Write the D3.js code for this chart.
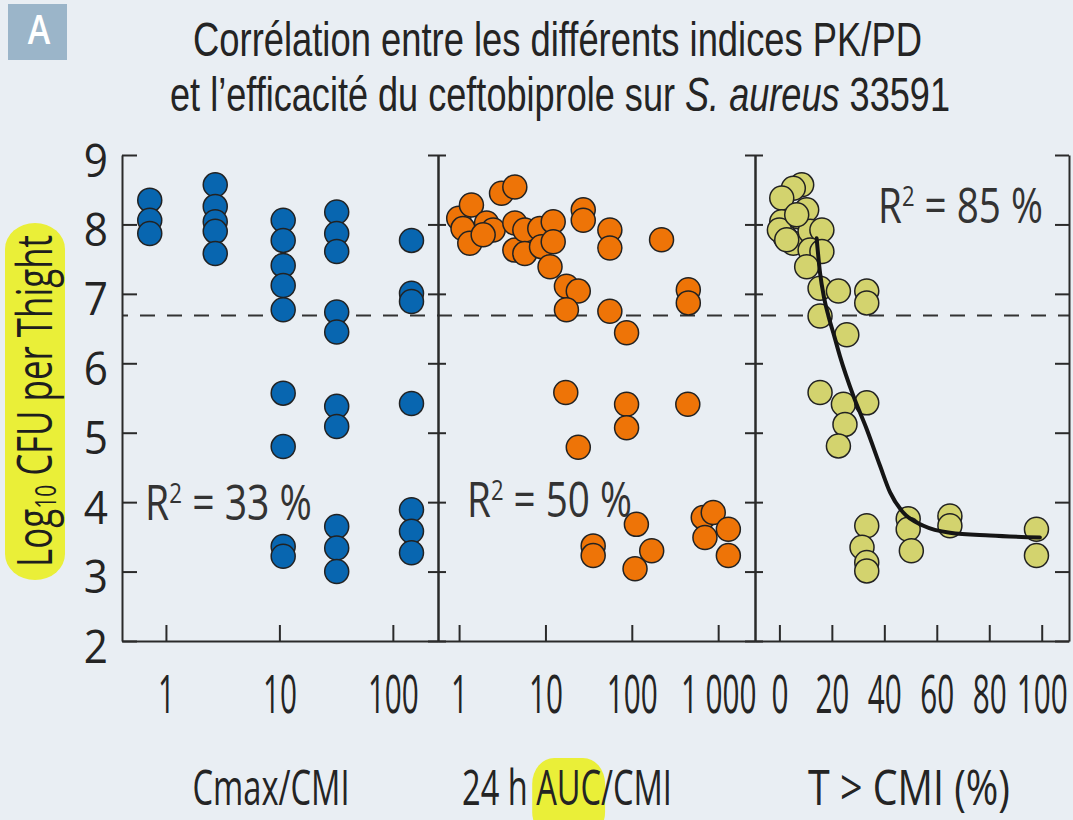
<!DOCTYPE html>
<html><head><meta charset="utf-8">
<script src="https://cdn.jsdelivr.net/npm/d3@7"></script>
<style>html,body{margin:0;padding:0;background:#e9eef3;}svg{display:block;}</style>
</head><body>
<svg id="c" width="1073" height="820"></svg>
<script>
// ---------- data ----------
const titleLine1 = "Corrélation entre les différents indices PK/PD";
const titleLine2a = "et l’efficacité du ceftobiprole sur ";
const titleLine2b = "S. aureus";
const titleLine2c = " 33591";
const panelLetter = "A";
const yTicks = [2, 3, 4, 5, 6, 7, 8, 9];
const cmaxTicks = [1, 10, 100];
const cmaxTickLabels = ["1", "10", "100"];
const aucTicks = [1, 10, 100, 1000];
const aucTickLabels = ["1", "10", "100", "1 000"];
const tTicks = [0, 20, 40, 60, 80, 100];
const tTickLabels = ["0", "20", "40", "60", "80", "100"];
const xTitles = ["Cmax/CMI", "24 h AUC/CMI", "T > CMI (%)"];
const r2Values = [33, 50, 85];
const threshold = 6.69;

const cmaxX = [0.72, 0.72, 0.72,
  2.72, 2.72, 2.72, 2.72, 2.72,
  10.8, 10.8, 10.8, 10.8, 10.8, 10.8, 10.8, 10.8, 10.8,
  32, 32, 32, 32, 32, 32, 32, 32, 32, 32,
  146, 146, 146, 146, 146, 146, 146];
const cmaxY = [8.35, 8.06, 7.87,
  8.57, 8.26, 8.04, 7.90, 7.58,
  8.06, 7.77, 7.41, 7.12, 6.77, 5.57, 4.80, 3.36, 3.22,
  8.18, 7.87, 7.61, 6.74, 6.45, 5.38, 5.09, 3.65, 3.34, 3.00,
  7.77, 7.01, 6.89, 5.42, 3.89, 3.58, 3.27];

const aucX = [0.99, 1.11, 1.39, 1.33, 2.08, 2.48, 1.9, 3.10, 4.42, 4.42, 4.42, 5.77, 5.77, 8.6, 9.0, 12.3, 12.3, 11.3, 27.4, 27.4,
  17.5, 24, 17.5, 55.7, 55.7, 55.7, 87, 221, 451, 451,
  17.2, 24, 87, 87, 445,
  35.7, 35.7, 113, 170, 109, 672, 877, 703, 1312, 1312];
const aucY = [8.09, 7.94, 8.28, 7.73, 8.02, 7.92, 7.85, 8.45, 8.54, 8.02, 7.63, 7.92, 7.58, 7.94, 7.68, 8.04, 7.75, 7.39, 8.21, 8.06,
  7.11, 7.04, 6.77, 7.92, 7.66, 6.75, 6.44, 7.78, 7.06, 6.87,
  5.58, 4.79, 5.41, 5.07, 5.41,
  3.37, 3.23, 3.68, 3.30, 3.04, 3.78, 3.85, 3.49, 3.61, 3.23];

const tX = [8.5, 5.3, 0.9, 0.9, 7.2, 10.4, 2.2, 5.3, 11.7, 16.2, 11.7, 16.2, 10.4, 0, 2.8, 6.6,
  15.5, 22.5, 15.5, 25.7, 33.3, 33.3,
  15.5, 24.4, 33.3, 25, 22.5,
  33.3, 31.5, 33.3, 33.3, 49.1, 49.1, 50.3, 65, 65, 98, 98];
const tY = [8.57, 8.52, 8.38, 8.04, 8.11, 8.21, 7.82, 7.73, 7.90, 7.92, 7.63, 7.61, 7.39, 7.92, 7.78, 8.14,
  7.08, 7.04, 6.68, 6.41, 7.04, 6.87,
  5.58, 5.41, 5.43, 5.12, 4.81,
  3.66, 3.35, 3.13, 3.01, 3.76, 3.61, 3.30, 3.80, 3.66, 3.61, 3.23];

const fitX = [14.2, 15.5, 17, 18.7, 21, 23.1, 28.2, 33.3, 38.4, 42.2, 47.2, 54.9, 65, 80.3, 99.3];
const fitY = [7.80, 7.30, 6.95, 6.68, 6.38, 6.10, 5.53, 5.05, 4.52, 4.14, 3.85, 3.66, 3.56, 3.52, 3.49];

// ---------- drawing ----------
const FONT = "'Open Sans','Liberation Sans',sans-serif";
const TFONT = "'Liberation Sans',Arial,sans-serif";
const INK = "#242424";
const svg = d3.select("#c");
svg.append("rect").attr("width", 1073).attr("height", 820).attr("fill", "#e9eef3");

function fit(t, cx, by, w, rot) {
  const bw = t.node().getBBox().width;
  const s = w / bw;
  t.attr("transform", `translate(${cx},${by})${rot || ""} scale(${s},1)`);
  return s;
}

// panel letter
svg.append("rect").attr("x", 8).attr("y", 4).attr("width", 59).attr("height", 56).attr("fill", "#9bb5c9");
const pl = svg.append("text").attr("text-anchor", "middle").attr("font-family", FONT)
  .attr("font-size", 40).attr("font-weight", 600).attr("fill", "#ffffff").text(panelLetter);
fit(pl, 39, 44, 23);

// title
const t1 = svg.append("text").attr("text-anchor", "middle").attr("font-family", TFONT)
  .attr("font-size", 48.5).attr("fill", INK).text(titleLine1);
fit(t1, 557.5, 56, 729);
const t2 = svg.append("text").attr("text-anchor", "middle").attr("font-family", TFONT)
  .attr("font-size", 48.5).attr("fill", INK);
t2.append("tspan").text(titleLine2a);
t2.append("tspan").attr("font-style", "italic").text(titleLine2b);
t2.append("tspan").text(titleLine2c);
fit(t2, 560, 111, 780);

// y title with highlight
svg.append("rect").attr("x", 5).attr("y", 223).attr("width", 60).attr("height", 357)
  .attr("rx", 30).attr("ry", 26).attr("fill", "#eaef38");
const yt = svg.append("text").attr("text-anchor", "middle").attr("font-family", FONT)
  .attr("font-size", 50).attr("fill", "#1e1e1e");
yt.append("tspan").text("Log");
yt.append("tspan").attr("font-size", 30).attr("dy", 4).text("10");
yt.append("tspan").attr("dy", -4).text(" CFU per Thight");
fit(yt, 52, 401, 332, " rotate(-90)");

const y = d3.scaleLinear().domain([2, 9]).range([641, 155]);

const panels = [
  { x0: 122, x1: 438, scale: d3.scaleLog().domain([0.41, 250]), ticks: cmaxTicks, labels: cmaxTickLabels,
    xs: cmaxX, ys: cmaxY, fill: "#0866b0" },
  { x0: 438, x1: 755, scale: d3.scaleLog().domain([0.57, 2670]), ticks: aucTicks, labels: aucTickLabels,
    xs: aucX, ys: aucY, fill: "#ee7407" },
  { x0: 755, x1: 1069, scale: d3.scaleLinear().domain([-9.3, 110.4]), ticks: tTicks, labels: tTickLabels,
    xs: tX, ys: tY, fill: "#d3d36e" }
];
panels.forEach(p => p.scale.range([p.x0, p.x1]));

function styleAxis(g) {
  g.attr("font-family", FONT);
  g.selectAll(".domain, .tick line").attr("stroke", "#2a2a2a").attr("stroke-width", 2);
  g.selectAll("text").attr("fill", INK);
}

// dashed threshold line
svg.append("line").attr("x1", panels[0].x0).attr("x2", panels[2].x1)
  .attr("y1", y(threshold)).attr("y2", y(threshold))
  .attr("stroke", "#333").attr("stroke-width", 2)
  .attr("stroke-dasharray", "15,12").attr("stroke-dashoffset", 9);

// left axis with labels
const gl = svg.append("g").attr("transform", `translate(${panels[0].x0},0)`)
  .call(d3.axisLeft(y).tickValues(yTicks).tickFormat(d3.format("d")).tickSizeInner(-15).tickSizeOuter(0));
styleAxis(gl);
gl.selectAll("text").attr("font-size", 46).attr("x", null).attr("dy", null)
  .attr("transform", "translate(-14,21) scale(0.92,1)");

// dividers
[panels[1].x0, panels[2].x0].forEach(xd => {
  const a = svg.append("g").attr("transform", `translate(${xd},0)`)
    .call(d3.axisLeft(y).tickValues(yTicks).tickFormat("").tickSize(10).tickSizeOuter(0));
  styleAxis(a);
  const b = svg.append("g").attr("transform", `translate(${xd},0)`)
    .call(d3.axisRight(y).tickValues(yTicks).tickFormat("").tickSize(8).tickSizeOuter(0));
  styleAxis(b);
});
// right edge
const gr = svg.append("g").attr("transform", `translate(${panels[2].x1},0)`)
  .call(d3.axisLeft(y).tickValues(yTicks).tickFormat("").tickSize(14).tickSizeOuter(0));
styleAxis(gr);

// bottom axes
panels.forEach((p, i) => {
  const g = svg.append("g").attr("transform", `translate(0,${y(2)})`)
    .call(d3.axisBottom(p.scale).tickValues(p.ticks).tickFormat((d, k) => p.labels[k])
      .tickSizeInner(-16).tickSizeOuter(0));
  styleAxis(g);
  g.selectAll("text").attr("font-size", 53).attr("y", null).attr("dy", null)
    .attr("transform", "translate(0,72) scale(0.56,1)");
});

// R² labels
const r2Pos = [[228.5, 520, 167], [549.5, 517, 165], [960.5, 223, 165]];
r2Values.forEach((v, i) => {
  const t = svg.append("text").attr("text-anchor", "middle").attr("font-family", FONT)
    .attr("font-size", 49).attr("fill", "#333");
  t.append("tspan").text("R");
  t.append("tspan").attr("font-size", 28).attr("dy", -17).text("2");
  t.append("tspan").attr("dy", 17).text(" = " + v + " %");
  fit(t, r2Pos[i][0], r2Pos[i][1], r2Pos[i][2]);
});

// x titles
const xtPos = [[271, 157], [567, 210], [909, 202]];
const hl = svg.append("g");
xTitles.forEach((s, i) => {
  const t = svg.append("text").attr("text-anchor", "middle").attr("font-family", FONT)
    .attr("font-size", 50).attr("fill", INK).text(s);
  const sc = fit(t, xtPos[i][0], 805, xtPos[i][1]);
  if (i === 1) {
    const a = t.node().getStartPositionOfChar(5).x;
    const b = t.node().getEndPositionOfChar(7).x;
    const xa = xtPos[i][0] + sc * a - 4, xb = xtPos[i][0] + sc * b + 4;
    hl.append("rect").attr("x", xa).attr("y", 758).attr("width", xb - xa).attr("height", 80)
      .attr("rx", 22).attr("ry", 26).attr("fill", "#eaef38");
  }
});

// points
panels.forEach(p => {
  svg.append("g").selectAll("circle")
    .data(d3.range(p.xs.length))
    .join("circle")
    .attr("cx", i => p.scale(p.xs[i]))
    .attr("cy", i => y(p.ys[i]))
    .attr("r", 12)
    .attr("fill", p.fill)
    .attr("stroke", "#222")
    .attr("stroke-width", 1.5);
});

// fitted curve
const line = d3.line().x(i => panels[2].scale(fitX[i])).y(i => y(fitY[i])).curve(d3.curveMonotoneX);
svg.append("path").attr("d", line(d3.range(fitX.length)))
  .attr("fill", "none").attr("stroke", "#151515").attr("stroke-width", 4).attr("stroke-linecap", "round");
</script>
</body></html>
